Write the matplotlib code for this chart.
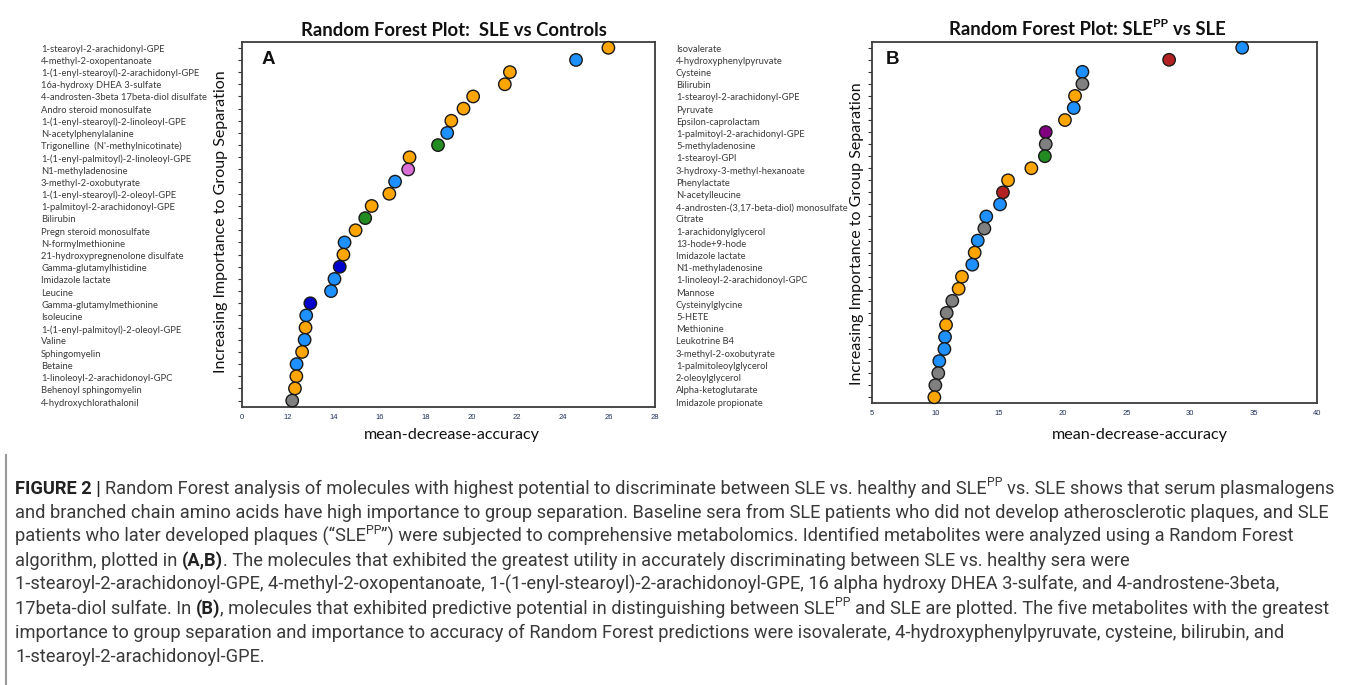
import matplotlib
matplotlib.use('Agg')
import matplotlib.pyplot as plt
from matplotlib import font_manager
from matplotlib.lines import Line2D

# ---------------- data ----------------
labels_a = [
    "1-stearoyl-2-arachidonyl-GPE", "4-methyl-2-oxopentanoate",
    "1-(1-enyl-stearoyl)-2-arachidonyl-GPE", "16a-hydroxy DHEA 3-sulfate",
    "4-androsten-3beta 17beta-diol disulfate", "Andro steroid monosulfate",
    "1-(1-enyl-stearoyl)-2-linoleoyl-GPE", "N-acetylphenylalanine",
    "Trigonelline  (N'-methylnicotinate)", "1-(1-enyl-palmitoyl)-2-linoleoyl-GPE",
    "N1-methyladenosine", "3-methyl-2-oxobutyrate",
    "1-(1-enyl-stearoyl)-2-oleoyl-GPE", "1-palmitoyl-2-arachidonoyl-GPE",
    "Bilirubin", "Pregn steroid monosulfate", "N-formylmethionine",
    "21-hydroxypregnenolone disulfate", "Gamma-glutamylhistidine",
    "Imidazole lactate", "Leucine", "Gamma-glutamylmethionine", "Isoleucine",
    "1-(1-enyl-palmitoyl)-2-oleoyl-GPE", "Valine", "Sphingomyelin", "Betaine",
    "1-linoleoyl-2-arachidonoyl-GPC", "Behenoyl sphingomyelin",
    "4-hydroxychlorathalonil",
]
values_a = [25.97, 24.56, 21.68, 21.46, 20.08, 19.66, 19.13, 18.95, 18.55, 17.31,
            17.25, 16.68, 16.43, 15.66, 15.38, 14.96, 14.48, 14.43, 14.27, 14.04,
            13.89, 12.99, 12.81, 12.78, 12.74, 12.63, 12.39, 12.38, 12.32, 12.20]
groups_a = ["orange", "blue", "orange", "orange", "orange", "orange", "orange", "blue",
            "green", "orange", "orchid", "blue", "orange", "orange", "green", "orange",
            "blue", "orange", "navy", "blue", "blue", "navy", "blue", "orange", "blue",
            "orange", "blue", "orange", "orange", "gray"]

labels_b = [
    "Isovalerate", "4-hydroxyphenylpyruvate", "Cysteine", "Bilirubin",
    "1-stearoyl-2-arachidonyl-GPE", "Pyruvate", "Epsilon-caprolactam",
    "1-palmitoyl-2-arachidonyl-GPE", "5-methyladenosine", "1-stearoyl-GPI",
    "3-hydroxy-3-methyl-hexanoate", "Phenylactate", "N-acetylleucine",
    "4-androsten-(3,17-beta-diol) monosulfate", "Citrate", "1-arachidonylglycerol",
    "13-hode+9-hode", "Imidazole lactate", "N1-methyladenosine",
    "1-linoleoyl-2-arachidonoyl-GPC", "Mannose", "Cysteinylglycine", "5-HETE",
    "Methionine", "Leukotrine B4", "3-methyl-2-oxobutyrate",
    "1-palmitoleoylglycerol", "2-oleoylglycerol", "Alpha-ketoglutarate",
    "Imidazole propionate",
]
values_b = [34.1, 28.36, 21.55, 21.55, 20.97, 20.87, 20.18, 18.67, 18.67, 18.6,
            17.54, 15.71, 15.31, 15.08, 14.0, 13.85, 13.33, 13.09, 12.9, 12.09,
            11.83, 11.33, 10.89, 10.84, 10.76, 10.71, 10.31, 10.23, 10.0, 9.92]
groups_b = ["blue", "red", "blue", "gray", "orange", "blue", "orange", "purple", "gray",
            "green", "orange", "orange", "red", "blue", "blue", "gray", "blue", "orange",
            "blue", "orange", "orange", "gray", "gray", "orange", "blue", "blue", "blue",
            "gray", "gray", "orange"]

xticks_a = [10, 12, 14, 16, 18, 20, 22, 24, 26, 28]
xticklabels_a = ["0", "12", "14", "16", "18", "20", "22", "24", "26", "28"]
xticks_b = [5, 10, 15, 20, 25, 30, 35, 40]
xticklabels_b = ["5", "10", "15", "20", "25", "30", "35", "40"]

palette = {"orange": "#FFA500", "blue": "#1E90FF", "green": "#228B22",
           "orchid": "#DA70D6", "navy": "#0000CD", "gray": "#808080",
           "red": "#B22222", "purple": "#800080"}

caption_lines = [
    [("FIGURE 2 | ", "b"), ("Random Forest analysis of molecules with highest potential to discriminate between SLE vs. healthy and SLE", "r"),
     ("PP", "sup"), (" vs. SLE shows that serum plasmalogens", "r")],
    [("and branched chain amino acids have high importance to group separation. Baseline sera from SLE patients who did not develop atherosclerotic plaques, and SLE", "r")],
    [("patients who later developed plaques (\u201cSLE", "r"), ("PP", "sup"),
     ("\u201d) were subjected to comprehensive metabolomics. Identified metabolites were analyzed using a Random Forest", "r")],
    [("algorithm, plotted in ", "r"), ("(A,B)", "b"),
     (". The molecules that exhibited the greatest utility in accurately discriminating between SLE vs. healthy sera were", "r")],
    [("1-stearoyl-2-arachidonoyl-GPE, 4-methyl-2-oxopentanoate, 1-(1-enyl-stearoyl)-2-arachidonoyl-GPE, 16 alpha hydroxy DHEA 3-sulfate, and 4-androstene-3beta,", "r")],
    [("17beta-diol sulfate. In ", "r"), ("(B)", "b"),
     (", molecules that exhibited predictive potential in distinguishing between SLE", "r"), ("PP", "sup"),
     (" and SLE are plotted. The five metabolites with the greatest", "r")],
    [("importance to group separation and importance to accuracy of Random Forest predictions were isovalerate, 4-hydroxyphenylpyruvate, cysteine, bilirubin, and", "r")],
    [("1-stearoyl-2-arachidonoyl-GPE.", "r")],
]


def has_font(name):
    try:
        font_manager.findfont(font_manager.FontProperties(family=name),
                              fallback_to_default=False)
        return True
    except Exception:
        return False


LAB_FONT = "Lato" if has_font("Lato") else "DejaVu Sans"
CAP_FONT = "Roboto" if has_font("Roboto") else "Liberation Sans"
LET_FONT = "Liberation Sans" if has_font("Liberation Sans") else "DejaVu Sans"
CAP_WEIGHT = "normal"

W, H = 1355, 685
fig = plt.figure(figsize=(W / 100, H / 100), dpi=100)
fig.patch.set_facecolor("white")
renderer = fig.canvas.get_renderer()


def fx(x):
    return x / W


def fy(y):
    return 1 - y / H


def measure(s, **props):
    t = fig.text(0, 0, s, **props)
    w = t.get_window_extent(renderer=renderer).width
    t.remove()
    return w


def run_w(s, **props):
    return measure("I" + s + "I", **props) - measure("II", **props)


def fit_size(s, target, **props):
    return 10.0 * target / measure(s, fontsize=10, **props)


def draw_runs(x0, ybase, runs, size, family, color, draw=True):
    x = x0
    for text, style in runs:
        fs = size * 0.68 if style == "sup" else size
        weight = "bold" if style == "b" else CAP_WEIGHT
        col = "#222222" if style == "b" else color
        dy = size * 0.45 * 100 / 72 if style == "sup" else 0
        props = dict(fontsize=fs, family=family, fontweight=weight)
        sw = run_w(" ", **props)
        stripped = text.strip(" ")
        lead = len(text) - len(text.lstrip(" "))
        trail = len(text) - len(text.rstrip(" "))
        x += lead * sw
        if stripped:
            if draw:
                fig.text(fx(x), fy(ybase - dy), stripped, ha="left", va="baseline",
                         color=col, **props)
            x += run_w(stripped, **props)
        x += trail * sw
    return x - x0


def make_panel(rect_px, values, groups, labels, xlim, xticks, xticklabels, label_x):
    l, r, t, b = rect_px
    ax = fig.add_axes([fx(l), fy(b), (r - l) / W, (b - t) / H])
    n = len(values)
    ypos = [n - i for i in range(n)]
    ax.scatter(values, ypos, s=80, c=[palette[g] for g in groups],
               edgecolors="#1a1a1a", linewidths=1.0, zorder=3, clip_on=False)
    ax.set_xlim(*xlim)
    ax.set_ylim(0.5, n + 0.5)
    ax.set_yticks(range(1, n + 1))
    ax.tick_params(axis="y", length=3, width=0.8, direction="out",
                   labelleft=False, color="#333333")
    ax.set_xticks(xticks)
    ax.set_xticklabels(xticklabels, fontsize=5.5, color="#22305e", family=LET_FONT)
    ax.tick_params(axis="x", length=0, pad=5)
    for sp in ax.spines.values():
        sp.set_color("#3c3c3c")
        sp.set_linewidth(1.3)
    for i, lab in enumerate(labels):
        ylab = 49 + i * (403 - 49) / (n - 1)
        fig.text(fx(label_x), fy(ylab), lab, ha="left", va="center",
                 fontsize=lab_size, family=LAB_FONT, color="#3a3a3a")
    return ax


lab_size = fit_size("4-androsten-3beta 17beta-diol disulfate", 166, family=LAB_FONT)

axA = make_panel((241.7, 655, 41.7, 406.7), values_a, groups_a, labels_a, (10, 28),
                 xticks_a, xticklabels_a, 41)
axB = make_panel((871.7, 1317.3, 41.7, 403.3), values_b, groups_b, labels_b, (5, 40),
                 xticks_b, xticklabels_b, 676)

# titles
tA = "Random Forest Plot:  SLE vs Controls"
sA = fit_size(tA, 307, family=LAB_FONT, fontweight="bold")
fig.text(fx(453.5), fy(30), tA, ha="center", va="center", fontsize=sA,
         family=LAB_FONT, fontweight="bold", color="#111111")
runsB = [("Random Forest Plot: SLE", "b"), ("PP", "supb"), (" vs SLE", "b")]


def runs_title(runs, size, draw, x0=0):
    x = x0
    for text, style in runs:
        fs = size * 0.65 if style == "supb" else size
        dy = size * 0.42 * 100 / 72 if style == "supb" else 0
        props = dict(fontsize=fs, family=LAB_FONT, fontweight="bold")
        sw = run_w(" ", **props)
        stripped = text.strip(" ")
        lead = len(text) - len(text.lstrip(" "))
        x += lead * sw
        if draw:
            fig.text(fx(x), fy(35 - dy), stripped, ha="left", va="baseline",
                     color="#111111", **props)
        x += run_w(stripped, **props)
    return x - x0


wB = runs_title(runsB, sA, False)
runs_title(runsB, sA, True, x0=1087.5 - wB / 2)

# panel letters
fig.text(fx(268), fy(60), "A", ha="center", va="center", fontsize=13.5,
         family=LET_FONT, fontweight="bold", color="#111111")
fig.text(fx(893), fy(60), "B", ha="center", va="center", fontsize=13.5,
         family=LET_FONT, fontweight="bold", color="#111111")

# axis labels
ylab = "Increasing Importance to Group Separation"
ys = fit_size(ylab, 304, family=LAB_FONT)
fig.text(fx(221.5), fy(221.5), ylab, rotation=90, ha="center", va="center",
         fontsize=ys, family=LAB_FONT, color="#111111")
fig.text(fx(857), fy(234), ylab, rotation=90, ha="center", va="center",
         fontsize=ys, family=LAB_FONT, color="#111111")
xlab = "mean-decrease-accuracy"
xs = fit_size(xlab, 177, family=LAB_FONT)
fig.text(fx(452), fy(435), xlab, ha="center", va="center", fontsize=xs,
         family=LAB_FONT, color="#111111")
fig.text(fx(1139.5), fy(435), xlab, ha="center", va="center", fontsize=xs,
         family=LAB_FONT, color="#111111")

# caption
w10 = draw_runs(0, 0, caption_lines[0], 10, CAP_FONT, "#3a3a3a", draw=False)
cap_size = 10 * 1320 / w10
for k, line in enumerate(caption_lines):
    draw_runs(15, 494 + k * 24, line, cap_size, CAP_FONT, "#3a3a3a")

fig.add_artist(Line2D([fx(6), fx(6)], [fy(455), fy(685)], color="#9a9a9a", lw=1.5))

fig.savefig("out.png", dpi=100, facecolor="white")
